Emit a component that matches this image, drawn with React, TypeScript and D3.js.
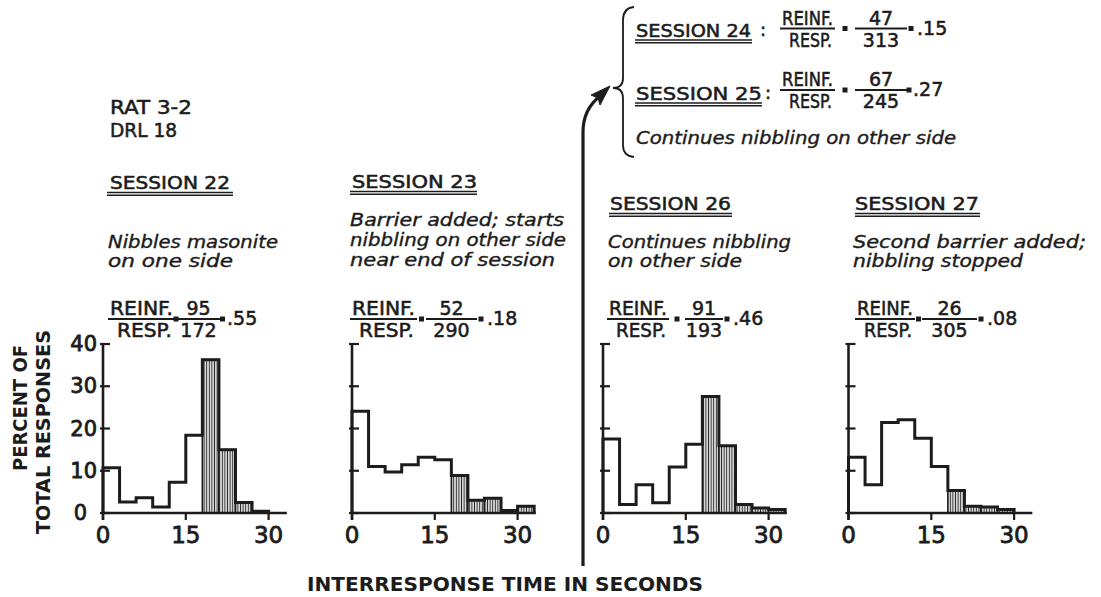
import React from "react";
import * as d3 from "d3";

// ---------- DATA ----------
const BIN_SECONDS = 3;
const DRL_SECONDS = 18;
const binStarts = [0, 3, 6, 9, 12, 15, 18, 21, 24, 27, 30];
const xTicks = [0, 15, 30];
const yTicks = [0, 10, 20, 30, 40];

const session22 = [10.7, 2.6, 3.6, 1.4, 7.3, 18.4, 36.3, 15.0, 2.5, 0.4];
const session23 = [24.1, 11.0, 9.7, 11.4, 13.2, 12.6, 8.9, 3.0, 3.5, 0.6, 1.6];
const session26 = [17.5, 2.0, 6.7, 2.4, 10.9, 16.3, 27.6, 15.9, 2.0, 1.2, 0.8];
const session27 = [13.2, 6.7, 21.4, 22.1, 17.7, 11.0, 5.3, 1.6, 1.4, 0.8];

const sessionTitles = ["SESSION 22", "SESSION 23", "SESSION 26", "SESSION 27"];
const sessionNotes = [
  ["Nibbles masonite", "on one side"],
  ["Barrier added; starts", "nibbling on other side", "near end of session"],
  ["Continues nibbling", "on other side"],
  ["Second barrier added;", "nibbling stopped"],
];
const reinforcements = [95, 52, 91, 26];
const responses = [172, 290, 193, 305];
const ratios = [".55", ".18", ".46", ".08"];

const insetTitles = ["SESSION 24", "SESSION 25"];
const insetReinf = [47, 67];
const insetResp = [313, 245];
const insetRatios = [".15", ".27"];
const insetNote = "Continues nibbling on other side";

const ratLabel = "RAT 3-2";
const drlLabel = "DRL 18";
const yTitle = ["PERCENT OF", "TOTAL RESPONSES"];
const xTitle = "INTERRESPONSE TIME IN SECONDS";

// ---------- LAYOUT ----------
const W = 1101;
const H = 597;
const INK = "#1c1c1c";
const CAPS = "'DejaVu Sans', 'Liberation Sans', sans-serif";
const PX_PER_SEC = 5.52;
const baseY = 513;
const topY = 344;
const panels = [
  { values: session22, x0: 103, textX: 110, titleY: 189, titleLen: 120, ul: [107, 233], noteY: [248, 267], noteLen: [170, 125], frac: [108, 175, 177, 220, 227] },
  { values: session23, x0: 352, textX: 352, titleY: 188, titleLen: 125, ul: [350, 477], noteY: [226, 246, 266], noteLen: [214, 216, 205], frac: [350, 417, 426, 477, 487] },
  { values: session26, x0: 603, textX: 610, titleY: 210, titleLen: 121, ul: [609, 732], noteY: [248, 267], noteLen: [183, 134], frac: [607, 669, 685, 723, 733] },
  { values: session27, x0: 848.5, textX: 855, titleY: 210, titleLen: 124, ul: [855, 980], noteY: [248, 267], noteLen: [233, 170], frac: [855, 915, 922, 977, 987] },
];
const fracBarY = 319;

const heavy = { stroke: INK, strokeWidth: 0.55, paintOrder: "stroke" as const };
const y = d3.scaleLinear().domain([0, 40]).range([baseY, topY]);

function Fraction({ pos, bar, num, den, val, size = 19 }) {
  const [l0, l1, n0, n1, v0] = pos;
  const eq1 = (l1 + n0) / 2;
  const eq2 = (n1 + v0) / 2 - 1;
  const lc = (l0 + l1) / 2;
  const nc = (n0 + n1) / 2;
  const common = { fontFamily: CAPS, fontSize: size, fill: INK, ...heavy };
  return (
    <g>
      <text x={l0 + 2} y={bar - 4} textLength={l1 - l0 - 4} lengthAdjust="spacingAndGlyphs" {...common}>REINF.</text>
      <line x1={l0} x2={l1} y1={bar} y2={bar} stroke={INK} strokeWidth={2} />
      <text x={lc + 3} y={bar + 18} textAnchor="middle" textLength={l1 - l0 - 12} lengthAdjust="spacingAndGlyphs" {...common}>RESP.</text>
      <rect x={eq1 - 2.5} y={bar - 2.5} width={5} height={5} fill={INK} />
      <text x={nc} y={bar - 4} textAnchor="middle" {...common}>{num}</text>
      <line x1={n0} x2={n1} y1={bar} y2={bar} stroke={INK} strokeWidth={2} />
      <text x={nc} y={bar + 18} textAnchor="middle" {...common}>{den}</text>
      <rect x={eq2 - 2.5} y={bar - 2.5} width={5} height={5} fill={INK} />
      <text x={v0} y={bar + 6} {...common}>{val}</text>
    </g>
  );
}

function Underline({ x1, x2, yy }) {
  return (
    <g stroke={INK}>
      <line x1={x1} x2={x2} y1={yy} y2={yy} strokeWidth={1.5} />
      <line x1={x1} x2={x2} y1={yy + 2.8} y2={yy + 2.8} strokeWidth={1.5} />
    </g>
  );
}

function Histogram({ p, idx }) {
  const x = d3.scaleLinear().domain([0, 33]).range([p.x0, p.x0 + 33 * PX_PER_SEC]);
  const pts: [number, number][] = [[0, 0]];
  p.values.forEach((v, i) => pts.push([binStarts[i], v]));
  pts.push([binStarts[p.values.length - 1] + BIN_SECONDS, 0]);
  const line = d3
    .line<[number, number]>()
    .x((d) => x(d[0]))
    .y((d) => y(d[1]))
    .curve(d3.curveStepAfter);
  const shaded = p.values
    .map((v, i) => ({ v, s: binStarts[i] }))
    .filter((d) => d.s >= DRL_SECONDS);
  return (
    <g>
      {shaded.map((d, i) => (
        <rect
          key={i}
          x={x(d.s)}
          y={y(d.v)}
          width={x(d.s + BIN_SECONDS) - x(d.s)}
          height={y(0) - y(d.v)}
          fill="url(#hatch)"
          stroke={INK}
          strokeWidth={1.6}
        />
      ))}
      <path d={line(pts) || ""} fill="none" stroke={INK} strokeWidth={3} strokeLinejoin="miter" />
      <line x1={x(0)} x2={x(0)} y1={y(0) + 7} y2={y(40)} stroke={INK} strokeWidth={2.6} />
      <line x1={x(0)} x2={x(33.3)} y1={y(0)} y2={y(0)} stroke={INK} strokeWidth={2.6} />
      {yTicks.map((t) => (
        <line key={"yt" + t} x1={x(0) - 3} x2={x(0) + 7} y1={y(t)} y2={y(t)} stroke={INK} strokeWidth={2.2} />
      ))}
      {xTicks.map((t) => (
        <g key={"xt" + t}>
          <line x1={x(t)} x2={x(t)} y1={y(0)} y2={y(0) + 7} stroke={INK} strokeWidth={2.2} />
          <text x={x(t)} y={543} textAnchor="middle" fontFamily={CAPS} fontSize={23} fill={INK} {...heavy} strokeWidth={0.8}>{t}</text>
        </g>
      ))}
      {idx === 0 &&
        yTicks.map((t) => (
          <text key={"yl" + t} x={t === 0 ? 87 : 97} y={y(t) + 7} textAnchor="end" fontFamily={CAPS} fontSize={21} fill={INK} {...heavy} strokeWidth={0.8}>
            {t}
          </text>
        ))}
    </g>
  );
}

export default function App() {
  return (
    <svg width={W} height={H} style={{ position: "absolute", left: 0, top: 0, background: "#fff" }}>
      <defs>
        <pattern id="hatch" width={2.6} height={4} patternUnits="userSpaceOnUse">
          <rect width={2.6} height={4} fill="#fff" />
          <line x1={1.3} x2={1.3} y1={0} y2={4} stroke="#2a2a2a" strokeWidth={1.2} />
        </pattern>
      </defs>

      <text x={110} y={114} textLength={82} lengthAdjust="spacingAndGlyphs" fontFamily={CAPS} fontSize={19} fill={INK} {...heavy}>{ratLabel}</text>
      <text x={110} y={137} textLength={67} lengthAdjust="spacingAndGlyphs" fontFamily={CAPS} fontSize={19} fill={INK} {...heavy}>{drlLabel}</text>

      {panels.map((p, i) => (
        <g key={i}>
          <text x={p.textX} y={p.titleY} textLength={p.titleLen} lengthAdjust="spacingAndGlyphs" fontFamily={CAPS} fontSize={18} fill={INK} {...heavy}>
            {sessionTitles[i]}
          </text>
          <Underline x1={p.ul[0]} x2={p.ul[1]} yy={p.titleY + 3.5} />
          {sessionNotes[i].map((s, j) => (
            <text key={j} x={p.textX - 2} y={p.noteY[j]} textLength={p.noteLen[j]} lengthAdjust="spacingAndGlyphs" fontFamily={CAPS} fontStyle="italic" fontSize={18} fill={INK} {...heavy} strokeWidth={0.4}>
              {s}
            </text>
          ))}
          <Fraction pos={p.frac} bar={fracBarY} num={reinforcements[i]} den={responses[i]} val={ratios[i]} />
          <Histogram p={p} idx={i} />
        </g>
      ))}

      <text x={636} y={37} textLength={115} lengthAdjust="spacingAndGlyphs" fontFamily={CAPS} fontSize={18} fill={INK} {...heavy}>{insetTitles[0]}</text>
      <Underline x1={635} x2={752} yy={40} />
      <text x={760} y={36} fontFamily={CAPS} fontSize={18} fill={INK} {...heavy}>:</text>
      <Fraction pos={[780, 835, 855, 907, 917]} bar={28.5} num={insetReinf[0]} den={insetResp[0]} val={insetRatios[0]} />

      <text x={636} y={100} textLength={126} lengthAdjust="spacingAndGlyphs" fontFamily={CAPS} fontSize={18} fill={INK} {...heavy}>{insetTitles[1]}</text>
      <Underline x1={635} x2={762} yy={103} />
      <text x={765} y={99} fontFamily={CAPS} fontSize={18} fill={INK} {...heavy}>:</text>
      <Fraction pos={[780, 835, 855, 907, 913]} bar={90} num={insetReinf[1]} den={insetResp[1]} val={insetRatios[1]} />

      <text x={636} y={144} textLength={320} lengthAdjust="spacingAndGlyphs" fontFamily={CAPS} fontStyle="italic" fontSize={18} fill={INK} {...heavy} strokeWidth={0.4}>{insetNote}</text>

      <path d="M634,7 Q623,8 623,20 L623,78 Q623,88 613,88 Q623,88 623,98 L623,145 Q623,156 634,157" fill="none" stroke={INK} strokeWidth={1.8} />

      <path d="M583,566 L583,132 C583,115 590,104 600,96" fill="none" stroke={INK} strokeWidth={3.2} />
      <path d="M610,86 L591,95 L598,98 L600,105 Z" fill={INK} stroke={INK} strokeWidth={1} strokeLinejoin="round" />

      <text transform="translate(27,408) rotate(-90)" textAnchor="middle" textLength={126} lengthAdjust="spacingAndGlyphs" fontFamily={CAPS} fontWeight="bold" fontSize={20} fill={INK}>{yTitle[0]}</text>
      <text transform="translate(50,432) rotate(-90)" textAnchor="middle" textLength={204} lengthAdjust="spacingAndGlyphs" fontFamily={CAPS} fontWeight="bold" fontSize={20} fill={INK}>{yTitle[1]}</text>
      <text x={307} y={591} textLength={396} lengthAdjust="spacingAndGlyphs" fontFamily={CAPS} fontWeight="bold" fontSize={19} fill={INK}>{xTitle}</text>
    </svg>
  );
}
